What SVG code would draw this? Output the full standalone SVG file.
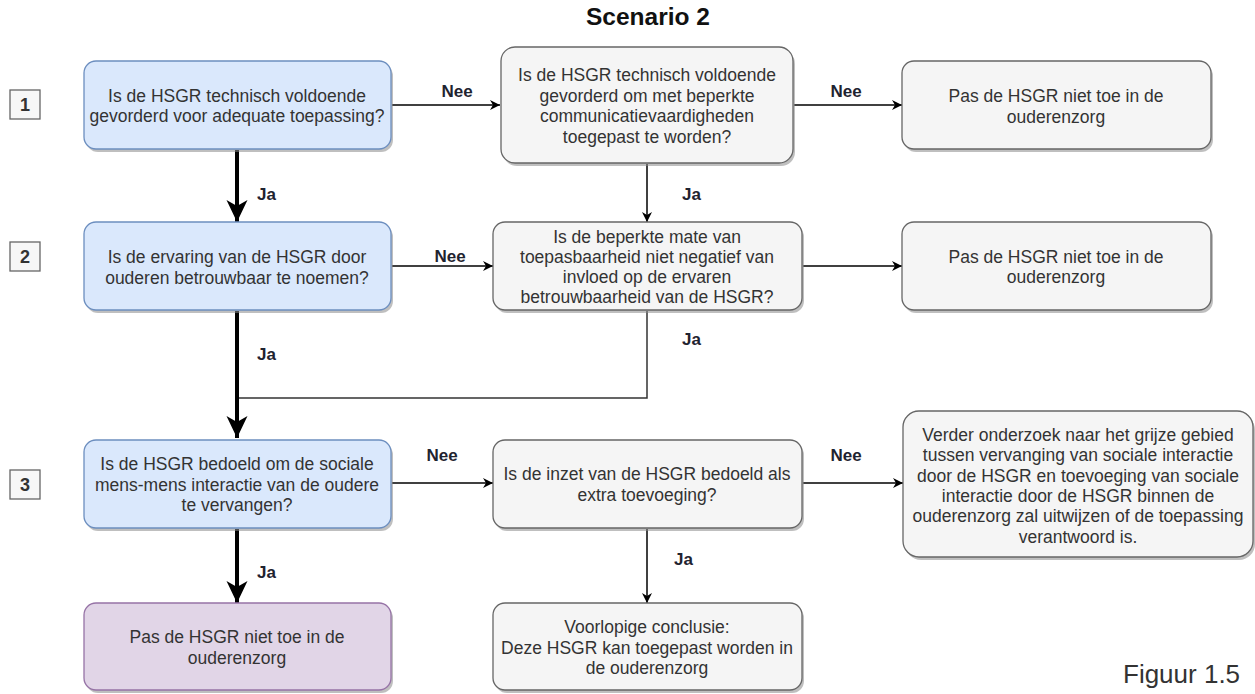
<svg xmlns="http://www.w3.org/2000/svg" width="1255" height="694" viewBox="0 0 1255 694">
<style>
text{font-family:"Liberation Sans",Arial,sans-serif;}
.t{font-size:17.5px;fill:#333333;text-anchor:middle;}
.lbl{font-size:17px;font-weight:bold;fill:#1f2330;}
.num{font-size:18px;font-weight:bold;fill:#333333;text-anchor:middle;}
.numbox{fill:#f7f7f7;stroke:#666666;stroke-width:1.3;}
.sh{fill:#8a8a8a;opacity:0.55;}
.blue{fill:#dae8fc;stroke:#6c8ebf;stroke-width:1.3;}
.grey{fill:#f5f5f5;stroke:#666666;stroke-width:1.3;}
.purple{fill:#e1d5e7;stroke:#9673a6;stroke-width:1.3;}
.thick{stroke:#000;stroke-width:4;fill:none;}
.thin{stroke:#000;stroke-width:1.5;fill:none;}
.thinline{stroke:#333;stroke-width:1.5;fill:none;}
</style>
<defs>
<marker id="big" markerUnits="userSpaceOnUse" markerWidth="24" markerHeight="24" viewBox="-23 -12 24 24" refX="0" refY="0" orient="auto">
<path d="M0,0 L-22,-10.5 L-16,0 L-22,10.5 Z" fill="#000"/>
</marker>
<marker id="small" markerUnits="userSpaceOnUse" markerWidth="12" markerHeight="12" viewBox="-11 -6 12 12" refX="0" refY="0" orient="auto">
<path d="M0,0 L-10,-5 L-7,0 L-10,5 Z" fill="#000"/>
</marker>
</defs>
<rect width="1255" height="694" fill="#ffffff"/>
<text x="648" y="25" style="font-size:24.5px;font-weight:bold;fill:#111;text-anchor:middle;">Scenario 2</text>

<g id="num1"><rect class="numbox" x="10" y="90" width="30" height="29"/><text class="num" x="25" y="111">1</text></g>
<g id="num2"><rect class="numbox" x="10" y="242" width="30" height="29"/><text class="num" x="25" y="263">2</text></g>
<g id="num3"><rect class="numbox" x="10" y="470" width="30" height="29"/><text class="num" x="25" y="491">3</text></g>

<g id="connectors">
<path class="thick" d="M237,150 L237,222" marker-end="url(#big)"/>
<path class="thick" d="M237,311 L237,438" marker-end="url(#big)"/>
<path class="thick" d="M237,529 L237,603" marker-end="url(#big)"/>
<path class="thin" d="M392,105 L500,105" marker-end="url(#small)"/>
<path class="thin" d="M794,105 L902,105" marker-end="url(#small)"/>
<path class="thin" d="M647,164 L647,222" marker-end="url(#small)"/>
<path class="thin" d="M392,266 L493,266" marker-end="url(#small)"/>
<path class="thin" d="M803,266 L902,266" marker-end="url(#small)"/>
<path class="thinline" d="M647,311 L647,398 L239,398"/>
<path class="thin" d="M392,483 L493,483" marker-end="url(#small)"/>
<path class="thin" d="M803,483 L903,483" marker-end="url(#small)"/>
<path class="thin" d="M647,529 L647,603" marker-end="url(#small)"/>
<text class="lbl" x="457" y="97" text-anchor="middle">Nee</text>
<text class="lbl" x="846" y="97" text-anchor="middle">Nee</text>
<text class="lbl" x="257" y="200">Ja</text>
<text class="lbl" x="682" y="200">Ja</text>
<text class="lbl" x="450" y="262" text-anchor="middle">Nee</text>
<text class="lbl" x="257" y="360">Ja</text>
<text class="lbl" x="682" y="345">Ja</text>
<text class="lbl" x="442" y="461" text-anchor="middle">Nee</text>
<text class="lbl" x="846" y="461" text-anchor="middle">Nee</text>
<text class="lbl" x="257" y="578">Ja</text>
<text class="lbl" x="674" y="565">Ja</text>
</g>

<g id="A1">
<rect class="sh" x="86" y="64" width="307" height="88" rx="12"/>
<rect class="blue" x="84" y="61" width="307" height="88" rx="12"/>
<text class="t" x="237" y="101.5">Is de HSGR technisch voldoende</text>
<text class="t" x="237" y="122">gevorderd voor adequate toepassing?</text>
</g>
<g id="A2">
<rect class="sh" x="86" y="225" width="307" height="88" rx="12"/>
<rect class="blue" x="84" y="222" width="307" height="88" rx="12"/>
<text class="t" x="237" y="263">Is de ervaring van de HSGR door</text>
<text class="t" x="237" y="283.5">ouderen betrouwbaar te noemen?</text>
</g>
<g id="A3">
<rect class="sh" x="86" y="443" width="307" height="88" rx="12"/>
<rect class="blue" x="84" y="440" width="307" height="88" rx="12"/>
<text class="t" x="237" y="470">Is de HSGR bedoeld om de sociale</text>
<text class="t" x="237" y="490.5">mens-mens interactie van de oudere</text>
<text class="t" x="237" y="511">te vervangen?</text>
</g>
<g id="A4">
<rect class="sh" x="86" y="606" width="307" height="87" rx="12"/>
<rect class="purple" x="84" y="603" width="307" height="87" rx="12"/>
<text class="t" x="237" y="643">Pas de HSGR niet toe in de</text>
<text class="t" x="237" y="664">ouderenzorg</text>
</g>
<g id="B1">
<rect class="sh" x="503" y="50" width="292" height="116" rx="14"/>
<rect class="grey" x="501" y="47" width="292" height="116" rx="14"/>
<text class="t" x="647" y="81">Is de HSGR technisch voldoende</text>
<text class="t" x="647" y="102">gevorderd om met beperkte</text>
<text class="t" x="647" y="122">communicatievaardigheden</text>
<text class="t" x="647" y="143">toegepast te worden?</text>
</g>
<g id="B2">
<rect class="sh" x="495" y="225" width="309" height="88" rx="12"/>
<rect class="grey" x="493" y="222" width="309" height="88" rx="12"/>
<text class="t" x="647" y="243">Is de beperkte mate van</text>
<text class="t" x="647" y="263">toepasbaarheid niet negatief van</text>
<text class="t" x="647" y="283">invloed op de ervaren</text>
<text class="t" x="647" y="303">betrouwbaarheid van de HSGR?</text>
</g>
<g id="B3">
<rect class="sh" x="495" y="443" width="309" height="88" rx="12"/>
<rect class="grey" x="493" y="440" width="309" height="88" rx="12"/>
<text class="t" x="647" y="480">Is de inzet van de HSGR bedoeld als</text>
<text class="t" x="647" y="501">extra toevoeging?</text>
</g>
<g id="B4">
<rect class="sh" x="495" y="606" width="309" height="87" rx="12"/>
<rect class="grey" x="493" y="603" width="309" height="87" rx="12"/>
<text class="t" x="647" y="633">Voorlopige conclusie:</text>
<text class="t" x="647" y="654">Deze HSGR kan toegepast worden in</text>
<text class="t" x="647" y="674">de ouderenzorg</text>
</g>
<g id="C1">
<rect class="sh" x="904" y="64" width="309" height="88" rx="12"/>
<rect class="grey" x="902" y="61" width="309" height="88" rx="12"/>
<text class="t" x="1056" y="102">Pas de HSGR niet toe in de</text>
<text class="t" x="1056" y="123">ouderenzorg</text>
</g>
<g id="C2">
<rect class="sh" x="904" y="225" width="309" height="88" rx="12"/>
<rect class="grey" x="902" y="222" width="309" height="88" rx="12"/>
<text class="t" x="1056" y="263">Pas de HSGR niet toe in de</text>
<text class="t" x="1056" y="283">ouderenzorg</text>
</g>
<g id="C3">
<rect class="sh" x="905" y="414" width="350" height="146" rx="16"/>
<rect class="grey" x="903" y="411" width="350" height="146" rx="16"/>
<text class="t" x="1078" y="441">Verder onderzoek naar het grijze gebied</text>
<text class="t" x="1078" y="461">tussen vervanging van sociale interactie</text>
<text class="t" x="1078" y="482">door de HSGR en toevoeging van sociale</text>
<text class="t" x="1078" y="502">interactie door de HSGR binnen de</text>
<text class="t" x="1078" y="522">ouderenzorg zal uitwijzen of de toepassing</text>
<text class="t" x="1078" y="543">verantwoord is.</text>
</g>
<text x="1123" y="683" style="font-size:26px;fill:#333333;">Figuur 1.5</text>
</svg>
